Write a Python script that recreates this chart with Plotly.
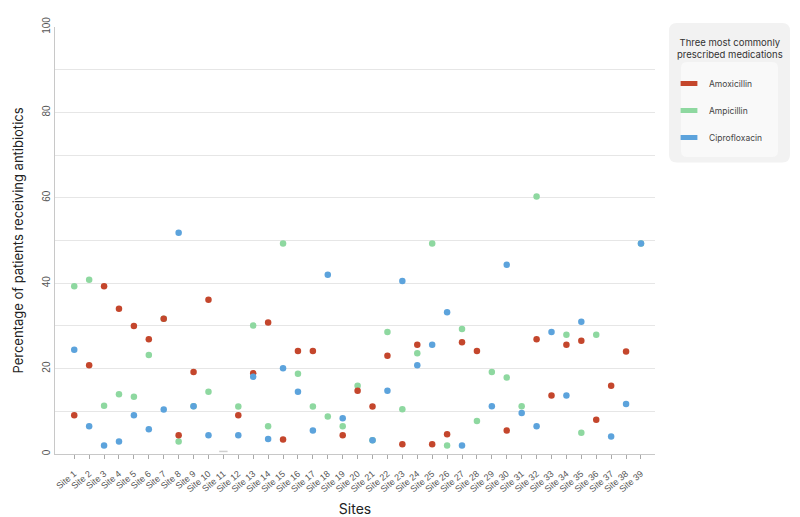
import plotly.graph_objects as go

sites = [f"Site {i}" for i in range(1, 40)]

amoxicillin = [9.1, 20.8, 39.3, 34.0, 30.0, 26.9, 31.7, 4.4, 19.2, 36.1,
               None, 9.1, 18.9, 30.8, 3.4, 24.1, 24.1, None, 4.4, 14.8,
               11.1, 23.0, 2.3, 25.6, 2.3, 4.6, 26.2, 24.1, None, 5.5,
               None, 26.9, 13.7, 25.6, 26.5, 8.0, 16.0, 24.0, None]

ampicillin = [39.3, 40.8, 11.3, 14.0, 13.4, 23.2, 31.7, 2.9, 11.2, 14.6,
              None, 11.1, 30.1, 6.5, 49.3, 18.8, 11.1, 8.8, 6.5, 16.0,
              3.2, 28.6, 10.5, 23.6, 49.3, 2.0, 29.3, 7.7, 19.2, 17.9,
              11.2, 60.3, None, 27.9, 5.0, 27.9, None, None, 49.3]

ciprofloxacin = [24.4, 6.5, 2.0, 2.9, 9.1, 5.8, 10.4, 51.8, 11.2, 4.4,
                 None, 4.4, 18.1, 3.5, 20.1, 14.6, 5.5, 42.0, 8.4, None,
                 3.2, 14.8, 40.5, 20.8, 25.6, 33.2, 2.0, None, 11.2, 44.3,
                 9.6, 6.5, 28.6, 13.7, 31.0, None, 4.1, 11.7, 49.3]

no_data_sites = ["Site 11"]
no_data_marks = [0.6]

y_ticks = [0, 20, 40, 60, 80, 100]

legend_title = "Three most commonly<br>prescribed medications"

RED = "#C4462C"
GREEN = "#8ED8A0"
BLUE = "#5CA3DC"

# plot-area geometry (pixels) used to place the legend panel
L, R, T, B = 55, 655, 27, 454
W, H = 800, 517


def px(x):
    return (x - L) / (R - L)


def py(y):
    return (B - y) / (B - T)


def rounded_rect(x0, y0, x1, y1, r):
    pts = [
        f"M {px(x0 + r)},{py(y0)}",
        f"L {px(x1 - r)},{py(y0)}",
        f"Q {px(x1)},{py(y0)} {px(x1)},{py(y0 + r)}",
        f"L {px(x1)},{py(y1 - r)}",
        f"Q {px(x1)},{py(y1)} {px(x1 - r)},{py(y1)}",
        f"L {px(x0 + r)},{py(y1)}",
        f"Q {px(x0)},{py(y1)} {px(x0)},{py(y1 - r)}",
        f"L {px(x0)},{py(y0 + r)}",
        f"Q {px(x0)},{py(y0)} {px(x0 + r)},{py(y0)}",
        "Z",
    ]
    return " ".join(pts)


fig = go.Figure()

marker_size = 6.5
series = [("Ampicillin", ampicillin, GREEN),
          ("Amoxicillin", amoxicillin, RED),
          ("Ciprofloxacin", ciprofloxacin, BLUE)]
for name, vals, col in series:
    fig.add_trace(go.Scatter(
        x=sites, y=vals, mode="markers", name=name, legendgroup=name,
        showlegend=False,
        marker=dict(size=marker_size, color=col, line=dict(width=0)),
        hovertemplate="%{x}<br>" + name + ": %{y}%<extra></extra>",
    ))

fig.add_trace(go.Scatter(
    x=no_data_sites, y=no_data_marks, mode="markers", showlegend=False,
    marker=dict(symbol="line-ew", size=6, line=dict(width=1.5, color="#cfcfcf")),
    hoverinfo="skip",
))

# legend entries (pill-like swatches)
for name, col in [("Amoxicillin", RED), ("Ampicillin", GREEN), ("Ciprofloxacin", BLUE)]:
    fig.add_trace(go.Scatter(
        x=[None], y=[None], mode="markers", name=name, legendgroup=name,
        marker=dict(symbol="line-ew", size=12, line=dict(width=5, color=col)),
    ))

fig.update_layout(
    width=W, height=H,
    margin=dict(l=L, r=W - R, t=T, b=H - B, pad=0),
    paper_bgcolor="white", plot_bgcolor="white",
    font=dict(family="Inter, Liberation Sans, sans-serif", color="#333"),
    showlegend=True,
    legend=dict(
        x=px(669), y=py(69), xanchor="left", yanchor="top",
        xref="paper", yref="paper",
        bgcolor="rgba(0,0,0,0)",
        font=dict(size=8.5, color="#444"),
        tracegroupgap=8,
        itemsizing="trace",
    ),
    shapes=[
        dict(type="path", xref="paper", yref="paper", layer="below",
             path=rounded_rect(669, 23, 790, 162.5, 8),
             fillcolor="#F2F2F2", line=dict(width=0)),
        dict(type="path", xref="paper", yref="paper", layer="below",
             path=rounded_rect(681, 62, 778, 157, 6),
             fillcolor="#F9F9F9", line=dict(width=0)),
    ],
    annotations=[
        dict(text=legend_title, xref="paper", yref="paper",
             x=px(730), y=py(48), xanchor="center", yanchor="middle",
             align="center", showarrow=False,
             font=dict(size=9.5, color="#333")),
    ],
)

fig.update_xaxes(
    type="category", categoryorder="array", categoryarray=sites,
    range=[-1.29, 38.94], automargin=False,
    tickangle=-40, tickfont=dict(family="Liberation Sans, Arial, sans-serif", size=9, color="#555"),
    ticks="outside", ticklen=4, tickcolor="#aaa", ticklabelstandoff=6,
    showline=True, linecolor="#c8c8c8", linewidth=1,
    showgrid=False, zeroline=False,
    title=dict(text="Sites", font=dict(size=14, color="#222"), standoff=12),
)

fig.update_yaxes(
    range=[0, 100], tickvals=y_ticks, ticktext=[str(v) for v in y_ticks],
    automargin=False,
    tickangle=-90, tickfont=dict(family="Liberation Sans, Arial, sans-serif", size=10, color="#555"),
    showline=True, linecolor="#c8c8c8", linewidth=1,
    showgrid=True, gridcolor="#e6e6e6", gridwidth=1,
    minor=dict(dtick=10, showgrid=True, gridcolor="#e6e6e6", gridwidth=1),
    zeroline=False, ticks="",
    title=dict(text="Percentage of patients receiving antibiotics",
               font=dict(size=13, color="#222"), standoff=14),
)

fig.write_html("out.html", config={"displayModeBar": False},
               post_script="document.body.style.margin='0';document.body.style.overflow='hidden';")
